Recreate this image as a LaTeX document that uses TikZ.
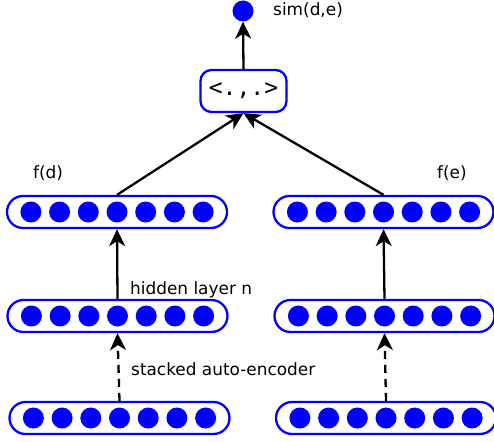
\documentclass[tikz,border=0pt]{standalone}
\usepackage{fontspec}
\setmainfont{DejaVu Sans}
\newfontfamily\monofnt{DejaVu Sans Mono}
\usetikzlibrary{arrows.meta}
\definecolor{nblue}{RGB}{0,0,255}
\tikzset{
  bar/.style={draw=nblue, line width=2.3pt, rounded corners=16pt, minimum width=220pt, minimum height=32pt, inner sep=0pt},
  unit/.style={circle, fill=nblue, minimum size=21pt, inner sep=0pt},
  conn/.style={line width=2.3pt, -{Stealth[length=17pt,width=16pt,inset=5pt]}},
  dconn/.style={conn, dash pattern=on 8pt off 6pt},
  lbl/.style={font=\fontsize{16.9}{20}\selectfont, inner sep=0pt, anchor=west}
}
\begin{document}
\begin{tikzpicture}[x=1pt,y=-1pt]
\useasboundingbox (0,0) rectangle (494,441);
% bars
\foreach \n/\cx/\cy in {ld/117/212, lm/117.5/316, lb/119.5/418, rd/383.5/212, rm/384.5/316, rb/386/418}{
  \node[bar] (\n) at (\cx,\cy) {};
  \foreach \i in {-3,...,3}{
    \node[unit] (\n\i) at (\cx+\i*28.7,\cy) {};
  }
}
% inner product
\node[draw=nblue, line width=2.3pt, rounded corners=11pt, minimum width=86pt, minimum height=42pt, inner sep=0pt, font=\monofnt\fontsize{23}{26}\selectfont] (ip) at (243.5,91) {<.,.>};
\node[unit] (sim) at (243,11) {};
\node[lbl] (simt) at (273,10) {sim(d,e)};
% labels
\node[lbl] (fd) at (33,173) {f(d)};
\node[lbl] (fe) at (437,173) {f(e)};
\node[lbl] (hl) at (130,290) {hidden layer n};
\node[lbl] (sae) at (131,369) {stacked auto-encoder};
% connectors
\draw[conn] (ip.north) -- (sim.south);
\draw[conn] (ld.north) -- (ip.south);
\draw[conn] (rd.north) -- (ip.south);
\draw[conn] (lm.north) -- (ld.south);
\draw[conn] (rm.north) -- (rd.south);
\draw[dconn] (lb.north) -- (lm.south);
\draw[dconn] (rb.north) -- (rm.south);
\end{tikzpicture}
\end{document}
